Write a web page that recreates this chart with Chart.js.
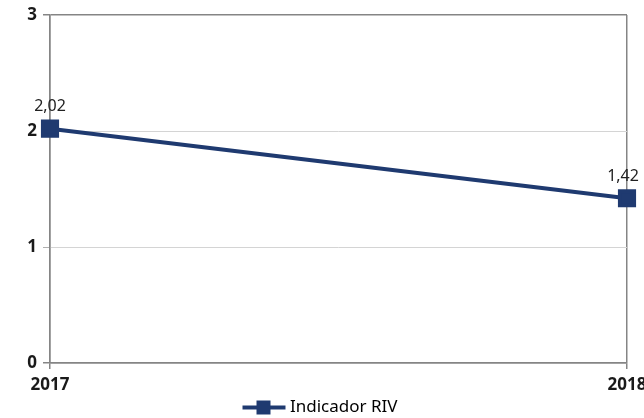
<!DOCTYPE html>
<html>
<head>
<meta charset="utf-8">
<script src="https://cdn.jsdelivr.net/npm/chart.js@4/dist/chart.umd.min.js"></script>
<style>
  html, body { margin: 0; padding: 0; background: #fff; }
  #wrap { width: 644px; height: 418px; }
</style>
</head>
<body>
<div id="wrap"><canvas id="chart"></canvas></div>
<script>
// chart data
const years = ['2017', '2018'];
const rivValues = [2.02, 1.42];
const yTicks = [0, 1, 2, 3];
const seriesName = 'Indicador RIV';

const navy = '#1f3a70';
const frameGrey = '#858585';
const gridGrey = '#d4d4d4';
const fontFamily = '"Noto Sans", "Open Sans", sans-serif';

// legend symbol: line with square in the middle (left part of canvas kept empty)
function legendSymbol() {
    const c = document.createElement('canvas');
    c.width = 62;
    c.height = 16;
    const g = c.getContext('2d');
    g.fillStyle = navy;
    g.fillRect(18, 6, 43, 4);
    g.fillRect(32, 1, 14, 14);
    return c;
}

// simple value labels above points
const valueLabels = {
    id: 'valueLabels',
    afterDatasetsDraw(chart) {
        const ctx = chart.ctx;
        const meta = chart.getDatasetMeta(0);
        ctx.save();
        ctx.font = '16px ' + fontFamily;
        ctx.fillStyle = '#222';
        ctx.textAlign = 'center';
        ctx.textBaseline = 'middle';
        meta.data.forEach((pt, i) => {
            const txt = rivValues[i].toFixed(2).replace('.', ',');
            ctx.fillText(txt, pt.x - (i === meta.data.length - 1 ? 4 : 0), pt.y - 22);
        });
        ctx.restore();
    }
};

new Chart(document.getElementById('chart'), {
    type: 'line',
    data: {
        labels: years,
        datasets: [{
            label: seriesName,
            data: rivValues,
            borderColor: navy,
            backgroundColor: navy,
            borderWidth: 4,
            pointStyle: 'rect',
            pointRadius: 10,
            pointHoverRadius: 10,
            tension: 0
        }]
    },
    options: {
        responsive: true,
        maintainAspectRatio: false,
        animation: false,
        layout: { padding: { top: 15, right: 17, left: 0, bottom: -8 } },
        plugins: {
            tooltip: { enabled: false },
            legend: {
                position: 'bottom',
                labels: {
                    usePointStyle: true,
                    pointStyle: legendSymbol(),
                    pointStyleWidth: 52,
                    padding: 0,
                    color: '#222',
                    font: { family: fontFamily, size: 17 },
                    generateLabels: chart => [{
                        text: seriesName,
                        pointStyle: legendSymbol(),
                        fillStyle: navy,
                        strokeStyle: navy,
                        lineWidth: 0,
                        datasetIndex: 0
                    }]
                }
            }
        },
        scales: {
            x: {
                offset: false,
                afterFit: s => { s.height = 36; s.paddingLeft = 0; s.paddingRight = 0; },
                grid: {
                    color: frameGrey,
                    tickColor: frameGrey,
                    tickLength: 6,
                    lineWidth: 1.5
                },
                border: { display: true, color: frameGrey, width: 1.5 },
                ticks: {
                    color: '#1a1a1a',
                    padding: 6,
                    maxRotation: 0,
                    font: { family: fontFamily, size: 17, weight: 'bold' }
                }
            },
            y: {
                min: yTicks[0],
                max: yTicks[yTicks.length - 1],
                afterFit: s => { s.width = 50; s.paddingTop = 0; s.paddingBottom = 0; },
                afterBuildTicks: s => { s.ticks = yTicks.map(v => ({ value: v })); },
                grid: {
                    color: ctx => (ctx.tick && (ctx.tick.value === 0 || ctx.tick.value === 3)) ? frameGrey : gridGrey,
                    lineWidth: ctx => (ctx.tick && (ctx.tick.value === 0 || ctx.tick.value === 3)) ? 1.5 : 1,
                    tickColor: ctx => (ctx.tick && (ctx.tick.value === 0 || ctx.tick.value === 3)) ? frameGrey : '#b0b0b0',
                    tickLength: 7
                },
                border: { display: true, color: frameGrey, width: 1.5 },
                ticks: {
                    color: '#1a1a1a',
                    padding: 6,
                    font: { family: fontFamily, size: 17, weight: 'bold' }
                }
            }
        }
    },
    plugins: [valueLabels]
});
</script>
</body>
</html>
